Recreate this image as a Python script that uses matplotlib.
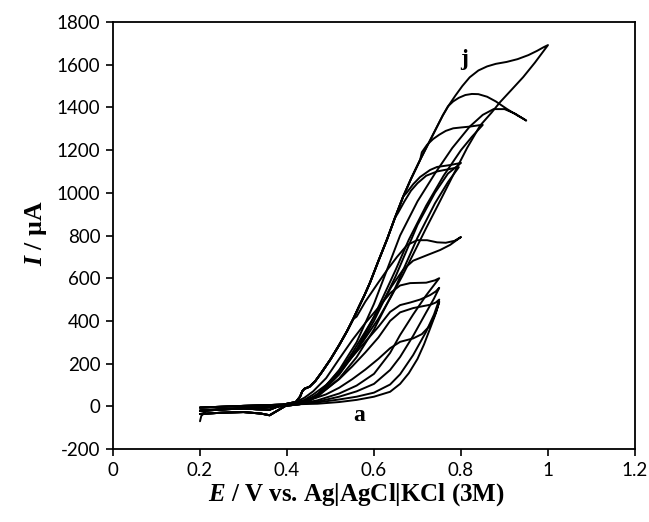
import matplotlib
matplotlib.use("Agg")
import matplotlib.pyplot as plt
from matplotlib.ticker import MultipleLocator, FuncFormatter

plt.rcParams["mathtext.fontset"] = "custom"
plt.rcParams["mathtext.it"] = "Liberation Serif:italic:bold"
plt.rcParams["mathtext.rm"] = "Liberation Serif:bold"

# Potential E (V) / current I (uA), one loop per curve a..j
# low-potential band (two slightly different traces so the band looks as thick as in the figure)
base_fwd_1 = [(0.20, -20), (0.25, -14), (0.30, -9), (0.35, -5), (0.40, 3), (0.43, 10)]
base_fwd_2 = [(0.20, -6), (0.25, -2), (0.30, 2), (0.35, 5), (0.40, 9), (0.43, 12)]
base_rev_1 = [(0.42, 18), (0.40, 6), (0.38, -18), (0.36, -42), (0.34, -34), (0.30, -27), (0.25, -30), (0.20, -36)]
base_rev_2 = [(0.42, 20), (0.40, 12), (0.38, 0), (0.36, -16), (0.33, -14), (0.30, -10), (0.25, -15), (0.20, -22)]
start_hook = [(0.20, -70), (0.203, -45), (0.212, -28)]

# shared outer branch (reverse scan of j), high E -> low E
envelope = [(1.0, 1692), (0.99, 1682), (0.975, 1665), (0.955, 1645), (0.93, 1626), (0.905, 1613), (0.88, 1604),
            (0.86, 1592), (0.84, 1573), (0.82, 1541), (0.803, 1500), (0.787, 1455), (0.772, 1410), (0.758, 1362),
            (0.745, 1310), (0.725, 1230), (0.706, 1154), (0.685, 1065), (0.667, 982), (0.648, 882), (0.63, 782),
            (0.61, 680), (0.591, 580), (0.578, 520), (0.565, 465), (0.552, 408), (0.538, 352), (0.52, 287),
            (0.50, 220), (0.48, 160), (0.465, 118), (0.452, 92), (0.445, 86), (0.44, 82), (0.435, 70), (0.43, 45)]

a_fwd = [(0.47, 12), (0.52, 20), (0.56, 30), (0.60, 45), (0.637, 68), (0.66, 105), (0.68, 155), (0.70, 222),
         (0.715, 290), (0.73, 370), (0.742, 435), (0.75, 490)]
a_rev = [(0.744, 450), (0.735, 405), (0.725, 370), (0.71, 338), (0.69, 318), (0.66, 302), (0.637, 272), (0.61, 222),
         (0.58, 172), (0.55, 127), (0.52, 87), (0.49, 56), (0.46, 35), (0.44, 22)]
b_fwd = [(0.47, 18), (0.52, 32), (0.56, 45), (0.60, 64), (0.637, 102), (0.66, 150), (0.69, 240), (0.72, 350),
         (0.738, 430), (0.75, 500)]
b_rev = [(0.742, 486), (0.73, 476), (0.715, 470), (0.69, 460), (0.66, 440), (0.637, 400), (0.61, 322), (0.58, 252),
         (0.55, 187), (0.52, 127), (0.49, 80), (0.46, 45), (0.44, 25)]
c_fwd = [(0.47, 22), (0.52, 45), (0.56, 70), (0.60, 105), (0.637, 170), (0.66, 231), (0.69, 330), (0.72, 440),
         (0.738, 505), (0.75, 555)]
c_rev = [(0.742, 538), (0.729, 521), (0.706, 500), (0.683, 486), (0.66, 474), (0.637, 442), (0.61, 372), (0.58, 302),
         (0.55, 232), (0.52, 162), (0.49, 100), (0.46, 55), (0.44, 30)]
d_fwd = [(0.47, 28), (0.52, 60), (0.56, 97), (0.60, 152), (0.637, 250), (0.66, 334), (0.69, 430), (0.72, 520),
         (0.738, 568), (0.75, 600)]
d_rev = [(0.74, 590), (0.72, 579), (0.70, 578), (0.683, 577), (0.66, 566), (0.637, 530), (0.61, 462), (0.58, 390),
         (0.55, 310), (0.52, 222), (0.49, 132), (0.46, 70), (0.44, 40)]
e_fwd = [(0.46, 40), (0.49, 90), (0.52, 160), (0.55, 250), (0.58, 350), (0.61, 452), (0.64, 560), (0.667, 640),
         (0.69, 682), (0.722, 708), (0.752, 732), (0.775, 756), (0.80, 793)]
e_rev = [(0.785, 775), (0.765, 766), (0.745, 768), (0.722, 778), (0.699, 778), (0.676, 755), (0.653, 700),
         (0.63, 638), (0.61, 580), (0.58, 490), (0.56, 420)]
f_fwd = [(0.47, 45), (0.52, 130), (0.56, 230), (0.60, 360), (0.65, 560), (0.70, 790), (0.74, 950), (0.77, 1050),
         (0.795, 1120)]
f_rev = [(0.77, 1110), (0.745, 1100), (0.72, 1080), (0.70, 1045), (0.685, 1010), (0.67, 960), (0.655, 905)]
g_fwd = [(0.47, 50), (0.52, 150), (0.56, 260), (0.60, 400), (0.65, 610), (0.70, 850), (0.74, 1000), (0.77, 1090),
         (0.80, 1140)]
g_rev = [(0.775, 1130), (0.745, 1121), (0.729, 1107), (0.706, 1074), (0.69, 1040), (0.675, 1000)]
h_fwd = [(0.47, 45), (0.52, 150), (0.56, 265), (0.60, 420), (0.65, 640), (0.68, 780), (0.72, 940), (0.76, 1080),
         (0.80, 1200), (0.825, 1262), (0.85, 1318)]
h_rev = [(0.84, 1316), (0.82, 1310), (0.80, 1306), (0.782, 1302), (0.765, 1290), (0.75, 1272), (0.736, 1252),
         (0.722, 1225), (0.71, 1190)]
i_fwd = [(0.47, 50), (0.52, 170), (0.56, 300), (0.60, 480), (0.63, 640), (0.66, 800), (0.70, 960), (0.74, 1090),
         (0.78, 1210), (0.82, 1310), (0.85, 1365), (0.875, 1392), (0.90, 1392), (0.925, 1370), (0.95, 1338)]
i_rev = [(0.945, 1345), (0.93, 1362), (0.906, 1392), (0.88, 1428), (0.86, 1450), (0.84, 1462), (0.825, 1463),
         (0.81, 1458), (0.795, 1445), (0.782, 1428), (0.77, 1405)]
j_fwd = [(0.45, 20), (0.47, 55), (0.50, 120), (0.54, 215), (0.575, 305), (0.61, 410), (0.637, 505), (0.665, 610),
         (0.69, 712), (0.72, 835), (0.752, 962), (0.785, 1095), (0.814, 1210), (0.844, 1315), (0.87, 1375),
         (0.89, 1425), (0.915, 1480), (0.943, 1542), (0.97, 1610), (1.0, 1692)]
j_rev = []

curves = [(a_fwd, a_rev), (b_fwd, b_rev), (c_fwd, c_rev), (d_fwd, d_rev), (e_fwd, e_rev),
          (f_fwd, f_rev), (g_fwd, g_rev), (h_fwd, h_rev), (i_fwd, i_rev), (j_fwd, j_rev)]
merged = [False, False, False, False, True, True, True, True, True, True]

fig = plt.figure(figsize=(6.49, 5.22), dpi=100)
ax = fig.add_axes([113 / 649, 1 - 449 / 522, (635 - 113) / 649, (449 - 22) / 522])

for k, (fwd, rev) in enumerate(curves):
    bf = base_fwd_1 if k % 2 == 0 else base_fwd_2
    br = base_rev_1 if k % 2 == 0 else base_rev_2
    pts = list(bf) + fwd + rev
    if merged[k]:
        last_E = pts[-1][0]
        pts += [p for p in envelope if p[0] < last_E]
    pts += br
    if k == 0:
        pts = start_hook + pts
    ax.plot([p[0] for p in pts], [p[1] for p in pts], color="black", lw=1.4,
            solid_joinstyle="round", solid_capstyle="round")

ax.text(0.565, -42, "a", fontsize=17, fontweight="bold", family="Liberation Serif", ha="center", va="center")
ax.text(0.807, 1625, "j", fontsize=17, fontweight="bold", family="Liberation Serif", ha="center", va="center")

ax.set_xlim(0, 1.2)
ax.set_ylim(-200, 1800)
ax.xaxis.set_major_locator(MultipleLocator(0.2))
ax.yaxis.set_major_locator(MultipleLocator(200))
ax.xaxis.set_major_formatter(FuncFormatter(lambda v, p: f"{v:g}"))
ax.yaxis.set_major_formatter(FuncFormatter(lambda v, p: f"{v:g}"))
ax.tick_params(direction="out", length=5, width=1.2, labelsize=13.5, top=False, right=False, pad=4)
for lab in ax.get_xticklabels() + ax.get_yticklabels():
    lab.set_family("Lato")
for s in ax.spines.values():
    s.set_linewidth(1.3)

ax.set_xlabel(r"$E$ / V vs. Ag|AgCl|KCl (3M)", fontsize=18, fontweight="bold", family="Liberation Serif")
ax.set_ylabel(r"$I$ / µA", fontsize=18.5, fontweight="bold", family="Liberation Serif")
ax.xaxis.set_label_coords(0.467, -0.075)
ax.yaxis.set_label_coords(-0.122, 0.505)

fig.savefig("out.png", dpi=100)
